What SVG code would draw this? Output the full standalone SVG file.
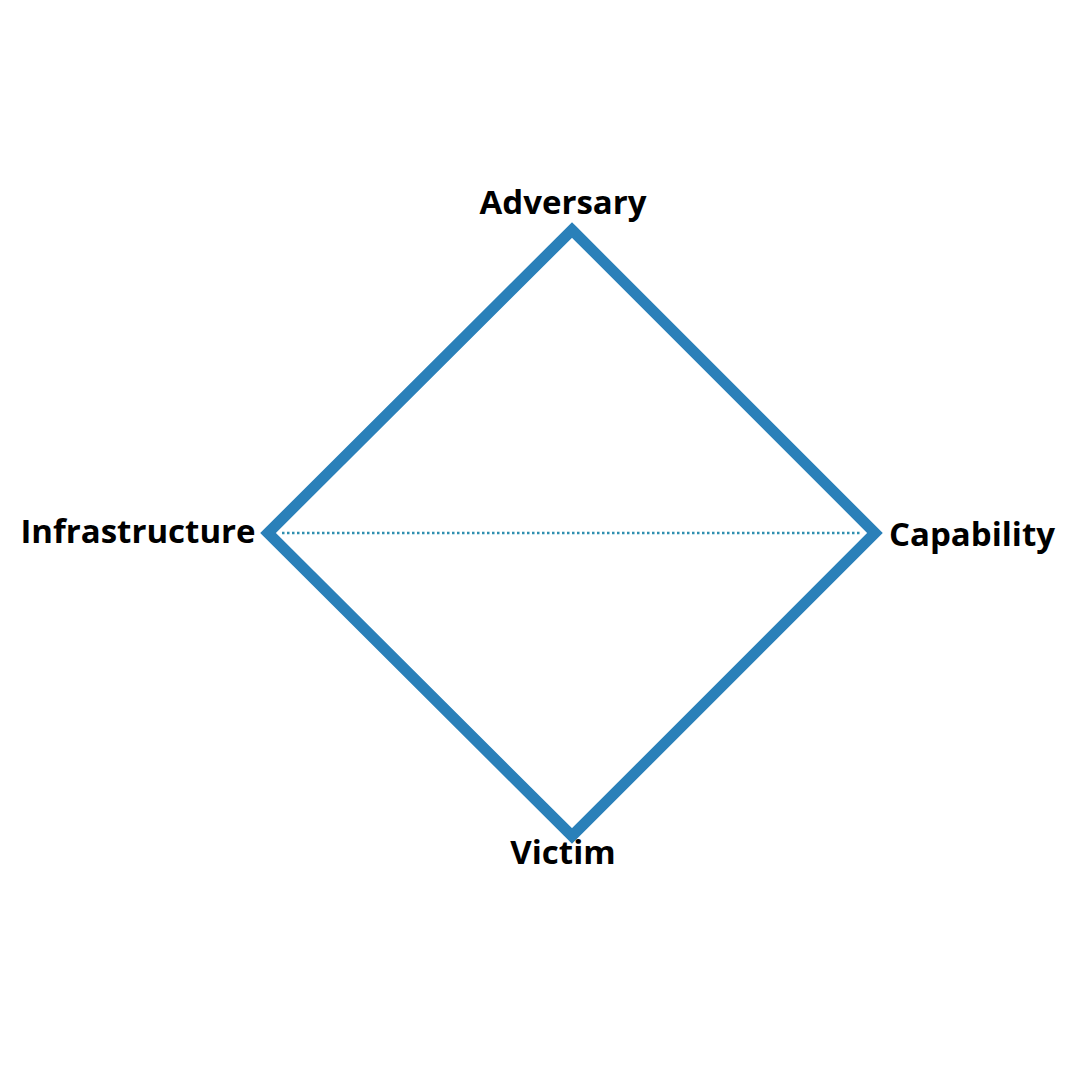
<svg xmlns="http://www.w3.org/2000/svg" width="1080" height="1080" viewBox="0 0 1080 1080">
<style>
.lbl{font-family:"Open Sans","Liberation Sans",sans-serif;font-weight:bold;font-size:33px;fill:#000}
</style>
<rect width="1080" height="1080" fill="#fff"/>
<g id="connectors">
<line x1="282" y1="533" x2="862" y2="533" stroke="#2f8fb0" stroke-width="2.5" stroke-dasharray="2.5,2.5"/>
<polygon points="572,230 875,533 572,836 268,533" fill="none" stroke="#2a80b9" stroke-width="11" stroke-linejoin="miter"/>
</g>
<g id="adversary"><text class="lbl" x="563" y="214" text-anchor="middle">Adversary</text></g>
<g id="infrastructure"><text class="lbl" x="138" y="543" text-anchor="middle">Infrastructure</text></g>
<g id="capability"><text class="lbl" x="972" y="546" text-anchor="middle">Capability</text></g>
<g id="victim"><text class="lbl" x="563" y="864" text-anchor="middle">Victim</text></g>
</svg>
